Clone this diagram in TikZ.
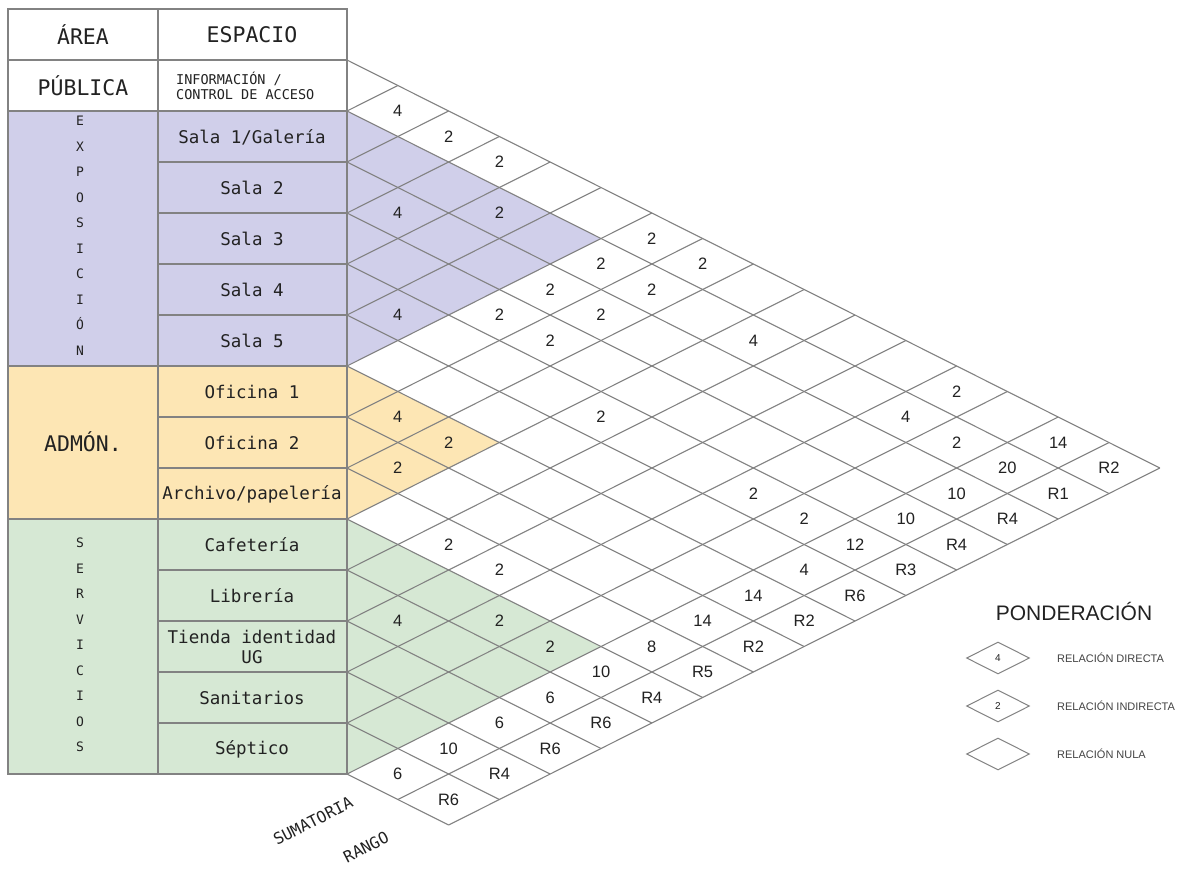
\documentclass[tikz,border=0pt]{standalone}
\usepackage{fontspec}
\setmainfont{Liberation Sans}
\newfontfamily\monofnt{DejaVu Sans Mono}
\usepackage{tikz}
\usetikzlibrary{shapes.geometric}
\definecolor{figline}{RGB}{130,130,130}
\definecolor{figtext}{RGB}{34,34,34}
\definecolor{zonaexpo}{RGB}{208,207,234}
\definecolor{zonaadmon}{RGB}{253,230,180}
\definecolor{zonaserv}{RGB}{214,232,212}
\tikzset{
  tl/.style    ={draw=figline, line width=1.3pt},
  gl/.style    ={draw=figline, line width=1.1pt},
  cab/.style   ={font=\monofnt\fontsize{21.5}{25}\selectfont, text=figtext, inner sep=1pt},
  esp/.style   ={font=\monofnt\fontsize{17.5}{20}\selectfont, text=figtext, inner sep=1pt, align=center},
  espc/.style  ={font=\monofnt\fontsize{13.5}{15}\selectfont, text=figtext, inner sep=1pt, align=left},
  vert/.style  ={font=\monofnt\fontsize{13}{25.5}\selectfont, text=figtext, inner sep=1pt, align=center},
  val/.style   ={font=\fontsize{16.5}{18}\selectfont, text=figtext, inner sep=1pt},
  rotlab/.style={font=\monofnt\fontsize{16}{18}\selectfont, text=figtext, inner sep=0pt, rotate=27},
  leyrombo/.style={diamond, draw=figline, line width=1pt, minimum width=63pt, minimum height=32pt,
                 inner sep=0pt, font=\fontsize{10}{11}\selectfont, text=figtext},
  leytxt/.style={font=\fontsize{11}{12}\selectfont, text=figtext!85, inner sep=1pt, anchor=west},
}
\begin{document}
\begin{tikzpicture}[x=1pt,y=-1pt]
  \useasboundingbox (0,0) rectangle (1185,871);
  \fill[white] (0,0) rectangle (1185,871);
  % tabla
  \fill[zonaexpo] (8,111) rectangle (347,366);
  \fill[zonaadmon] (8,366) rectangle (347,519);
  \fill[zonaserv] (8,519) rectangle (347,774);
  \begin{scope}[shift={(347,60)}, x={(-50.8pt,-25.5pt)}, y={(50.8pt,-25.5pt)}]
  \fill[zonaexpo] (1,1) -- (1,6) -- (6,6) -- cycle;
  \fill[zonaadmon] (6,6) -- (6,9) -- (9,9) -- cycle;
  \fill[zonaserv] (9,9) -- (9,14) -- (14,14) -- cycle;
  \draw[gl] (0,0) -- (0,16);
  \draw[gl] (1,1) -- (1,16);
  \draw[gl] (2,2) -- (2,16);
  \draw[gl] (3,3) -- (3,16);
  \draw[gl] (4,4) -- (4,16);
  \draw[gl] (5,5) -- (5,16);
  \draw[gl] (6,6) -- (6,16);
  \draw[gl] (7,7) -- (7,16);
  \draw[gl] (8,8) -- (8,16);
  \draw[gl] (9,9) -- (9,16);
  \draw[gl] (10,10) -- (10,16);
  \draw[gl] (11,11) -- (11,16);
  \draw[gl] (12,12) -- (12,16);
  \draw[gl] (13,13) -- (13,16);
  \draw[gl] (14,14) -- (14,16);
  \draw[gl] (0,1) -- (1,1);
  \draw[gl] (0,2) -- (2,2);
  \draw[gl] (0,3) -- (3,3);
  \draw[gl] (0,4) -- (4,4);
  \draw[gl] (0,5) -- (5,5);
  \draw[gl] (0,6) -- (6,6);
  \draw[gl] (0,7) -- (7,7);
  \draw[gl] (0,8) -- (8,8);
  \draw[gl] (0,9) -- (9,9);
  \draw[gl] (0,10) -- (10,10);
  \draw[gl] (0,11) -- (11,11);
  \draw[gl] (0,12) -- (12,12);
  \draw[gl] (0,13) -- (13,13);
  \draw[gl] (0,14) -- (14,14);
  \draw[gl] (0,15) -- (14,15);
  \draw[gl] (0,16) -- (14,16);
  % relaciones
  \node[val] (c0-1) at (0.5,1.5) {4};
  \node[val] (c0-2) at (0.5,2.5) {2};
  \node[val] (c0-3) at (0.5,3.5) {2};
  \node[val] (c0-6) at (0.5,6.5) {2};
  \node[val] (c0-7) at (0.5,7.5) {2};
  \node[val] (c0-12) at (0.5,12.5) {2};
  \node[val] (c1-4) at (1.5,4.5) {2};
  \node[val] (c1-6) at (1.5,6.5) {2};
  \node[val] (c1-7) at (1.5,7.5) {2};
  \node[val] (c1-9) at (1.5,9.5) {4};
  \node[val] (c1-12) at (1.5,12.5) {4};
  \node[val] (c1-13) at (1.5,13.5) {2};
  \node[val] (c2-3) at (2.5,3.5) {4};
  \node[val] (c2-6) at (2.5,6.5) {2};
  \node[val] (c2-7) at (2.5,7.5) {2};
  \node[val] (c3-6) at (3.5,6.5) {2};
  \node[val] (c3-7) at (3.5,7.5) {2};
  \node[val] (c4-5) at (4.5,5.5) {4};
  \node[val] (c4-9) at (4.5,9.5) {2};
  \node[val] (c4-12) at (4.5,12.5) {2};
  \node[val] (c4-13) at (4.5,13.5) {2};
  \node[val] (c6-7) at (6.5,7.5) {4};
  \node[val] (c6-8) at (6.5,8.5) {2};
  \node[val] (c7-8) at (7.5,8.5) {2};
  \node[val] (c8-10) at (8.5,10.5) {2};
  \node[val] (c8-11) at (8.5,11.5) {2};
  \node[val] (c9-12) at (9.5,12.5) {2};
  \node[val] (c9-13) at (9.5,13.5) {2};
  \node[val] (c10-11) at (10.5,11.5) {4};
  % sumatoria
  \node[val] (s0) at (0.5,14.5) {14};
  \node[val] (s1) at (1.5,14.5) {20};
  \node[val] (s2) at (2.5,14.5) {10};
  \node[val] (s3) at (3.5,14.5) {10};
  \node[val] (s4) at (4.5,14.5) {12};
  \node[val] (s5) at (5.5,14.5) {4};
  \node[val] (s6) at (6.5,14.5) {14};
  \node[val] (s7) at (7.5,14.5) {14};
  \node[val] (s8) at (8.5,14.5) {8};
  \node[val] (s9) at (9.5,14.5) {10};
  \node[val] (s10) at (10.5,14.5) {6};
  \node[val] (s11) at (11.5,14.5) {6};
  \node[val] (s12) at (12.5,14.5) {10};
  \node[val] (s13) at (13.5,14.5) {6};
  % rango
  \node[val] (r0) at (0.5,15.5) {R2};
  \node[val] (r1) at (1.5,15.5) {R1};
  \node[val] (r2) at (2.5,15.5) {R4};
  \node[val] (r3) at (3.5,15.5) {R4};
  \node[val] (r4) at (4.5,15.5) {R3};
  \node[val] (r5) at (5.5,15.5) {R6};
  \node[val] (r6) at (6.5,15.5) {R2};
  \node[val] (r7) at (7.5,15.5) {R2};
  \node[val] (r8) at (8.5,15.5) {R5};
  \node[val] (r9) at (9.5,15.5) {R4};
  \node[val] (r10) at (10.5,15.5) {R6};
  \node[val] (r11) at (11.5,15.5) {R6};
  \node[val] (r12) at (12.5,15.5) {R4};
  \node[val] (r13) at (13.5,15.5) {R6};
  \end{scope}
  \draw[tl] (8,9) rectangle (347,774);
  \draw[tl] (158,9) -- (158,774);
  \draw[tl] (8,60) -- (347,60);
  \draw[tl] (8,111) -- (347,111);
  \draw[tl] (8,366) -- (347,366);
  \draw[tl] (8,519) -- (347,519);
  \draw[tl] (158,162) -- (347,162);
  \draw[tl] (158,213) -- (347,213);
  \draw[tl] (158,264) -- (347,264);
  \draw[tl] (158,315) -- (347,315);
  \draw[tl] (158,417) -- (347,417);
  \draw[tl] (158,468) -- (347,468);
  \draw[tl] (158,570) -- (347,570);
  \draw[tl] (158,621) -- (347,621);
  \draw[tl] (158,672) -- (347,672);
  \draw[tl] (158,723) -- (347,723);
  \node[cab] (area) at (83,35) {ÁREA};
  \node[cab] (espacio) at (252,35) {ESPACIO};
  \node[cab] (publica) at (83,86) {PÚBLICA};
  \node[vert] (expo) at (80,236) {E\\X\\P\\O\\S\\I\\C\\I\\Ó\\N};
  \node[cab] (admon) at (83,442) {ADMÓN.};
  \node[vert] (serv) at (80,645) {S\\E\\R\\V\\I\\C\\I\\O\\S};
  \node[espc,anchor=west] (info) at (175,86) {INFORMACIÓN /\\CONTROL DE ACCESO};
  \node[esp] (sala1) at (252,137) {Sala 1/Galería};
  \node[esp] (sala2) at (252,188) {Sala 2};
  \node[esp] (sala3) at (252,239) {Sala 3};
  \node[esp] (sala4) at (252,290) {Sala 4};
  \node[esp] (sala5) at (252,341) {Sala 5};
  \node[esp] (ofi1) at (252,392) {Oficina 1};
  \node[esp] (ofi2) at (252,443) {Oficina 2};
  \node[esp] (archivo) at (252,494) {Archivo/papelería};
  \node[esp] (cafe) at (252,545) {Cafetería};
  \node[esp] (libreria) at (252,596) {Librería};
  \node[esp] (tienda) at (252,647) {Tienda identidad\\UG};
  \node[esp] (sanit) at (252,698) {Sanitarios};
  \node[esp] (septico) at (252,749) {Séptico};
  \node[rotlab] (sumatoria) at (313,821) {SUMATORIA};
  \node[rotlab] (rango) at (366,847) {RANGO};
  % ponderacion
  \node[font=\fontsize{21}{24}\selectfont, text=figtext] (pond) at (1074,611) {PONDERACIÓN};
  \node[leyrombo] (rombo4) at (998,658) {4};
  \node[leyrombo] (rombo2) at (998,706) {2};
  \node[leyrombo] (rombo0) at (998,754) {};
  \node[leytxt] (directa) at (1056,658) {RELACIÓN DIRECTA};
  \node[leytxt] (indirecta) at (1056,706) {RELACIÓN INDIRECTA};
  \node[leytxt] (nula) at (1056,754) {RELACIÓN NULA};
\end{tikzpicture}
\end{document}
